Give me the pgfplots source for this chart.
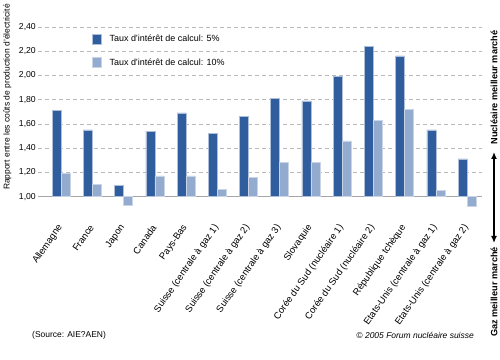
\documentclass[border=0pt]{standalone}
\usepackage{fontspec}
\setmainfont{Liberation Sans}
\usepackage{pgfplots}
\usepackage{pgfplotstable}
\usetikzlibrary{arrows.meta}
\pgfplotsset{compat=1.18}
\definecolor{dark}{RGB}{47,93,158}
\definecolor{light}{RGB}{148,171,208}
\pgfplotstableread{
x v5 v10
0 1.71 1.19
1 1.55 1.10
2 1.09 0.93
3 1.54 1.17
4 1.69 1.17
5 1.52 1.06
6 1.66 1.16
7 1.81 1.28
8 1.79 1.28
9 1.99 1.46
10 2.24 1.63
11 2.16 1.72
12 1.55 1.05
13 1.31 0.92
}\datatable
\begin{document}
\begin{tikzpicture}
\path[use as bounding box] (0,0) rectangle (500bp,360bp);
\begin{axis}[
  at={(38bp,151.3bp)}, anchor=south west,
  scale only axis, width=444bp, height=194bp,
  xmin=-0.74, xmax=13.48, ymin=-0.1, ymax=1.5,
  y filter/.expression={y-1},
  ybar=0pt, bar width=9bp,
  axis line style={draw=none},
  tick style={draw=none},
  xtick={0,...,13},
  xticklabels={Allemagne,France,Japon,Canada,Pays-Bas,Suisse (centrale à gaz 1),Suisse (centrale à gaz 2),Suisse (centrale à gaz 3),Slovaquie,Corée du Sud (nucléaire 1),Corée du Sud (nucléaire 2),République tchèque,Etats-Unis (centrale à gaz 1),Etats-Unis (centrale à gaz 2)},
  xticklabel style={font=\fontsize{9.5}{11}\selectfont, rotate=55, anchor=east, inner sep=1pt},
  xticklabel shift=12bp,
  ytick={0.2,0.4,0.6,0.8,1.0,1.2,1.4},
  yticklabels={{1,20},{1,40},{1,60},{1,80},{2,00},{2,20},{2,40}},
  extra y ticks={0}, extra y tick labels={1{,}00},
  extra y tick style={grid style={solid, draw=gray!70, line width=0.8pt}},
  yticklabel style={font=\fontsize{8.7}{10}\selectfont, inner sep=1pt, xshift=-1bp},
  ymajorgrids, grid style={dash pattern=on 4bp off 3bp, draw=gray!55, line width=0.6pt},
  legend style={at={(axis description cs:0.1216,0.905)}, anchor=north west, draw=none, fill=none,
    font=\fontsize{9}{11}\selectfont, row sep=11bp, inner sep=0pt},
  legend cell align=left,
  legend image code/.code={\fill[#1] (0bp,-5bp) rectangle (9bp,5bp);},
]
\addplot[fill=dark, draw=dark!40!white, line width=0.4pt] table[x=x, y=v5] {\datatable};
\addlegendentry{\hspace{6bp}Taux d'intérêt de calcul: 5\%}
\addplot[fill=light, draw=light!50!white, line width=0.4pt] table[x=x, y=v10] {\datatable};
\addlegendentry{\hspace{6bp}Taux d'intérêt de calcul: 10\%}
\end{axis}
\node[rotate=90, inner sep=0pt, font=\fontsize{8.5}{10}\selectfont] at (7.5bp,263bp) {Rapport entre les coûts de production d'électricité};
\node[rotate=90, inner sep=0pt, font=\fontsize{9.2}{11}\selectfont\bfseries] at (494bp,272.5bp) {Nucléaire meilleur marché};
\node[rotate=90, inner sep=0pt, font=\fontsize{9.2}{11}\selectfont\bfseries] at (494bp,68bp) {Gaz meilleur marché};
\draw[line width=1.3pt, {Latex[length=7bp,width=6bp]}-{Latex[length=7bp,width=6bp]}] (494bp,208bp) -- (494bp,117bp);
\node[anchor=west, inner sep=0pt, font=\fontsize{8.5}{10}\selectfont] at (32bp,25bp) {(Source: AIE?AEN)};
\node[anchor=east, inner sep=0pt, font=\fontsize{8.5}{10}\selectfont\itshape] at (474bp,25bp) {© 2005 Forum nucléaire suisse};
\end{tikzpicture}
\end{document}
